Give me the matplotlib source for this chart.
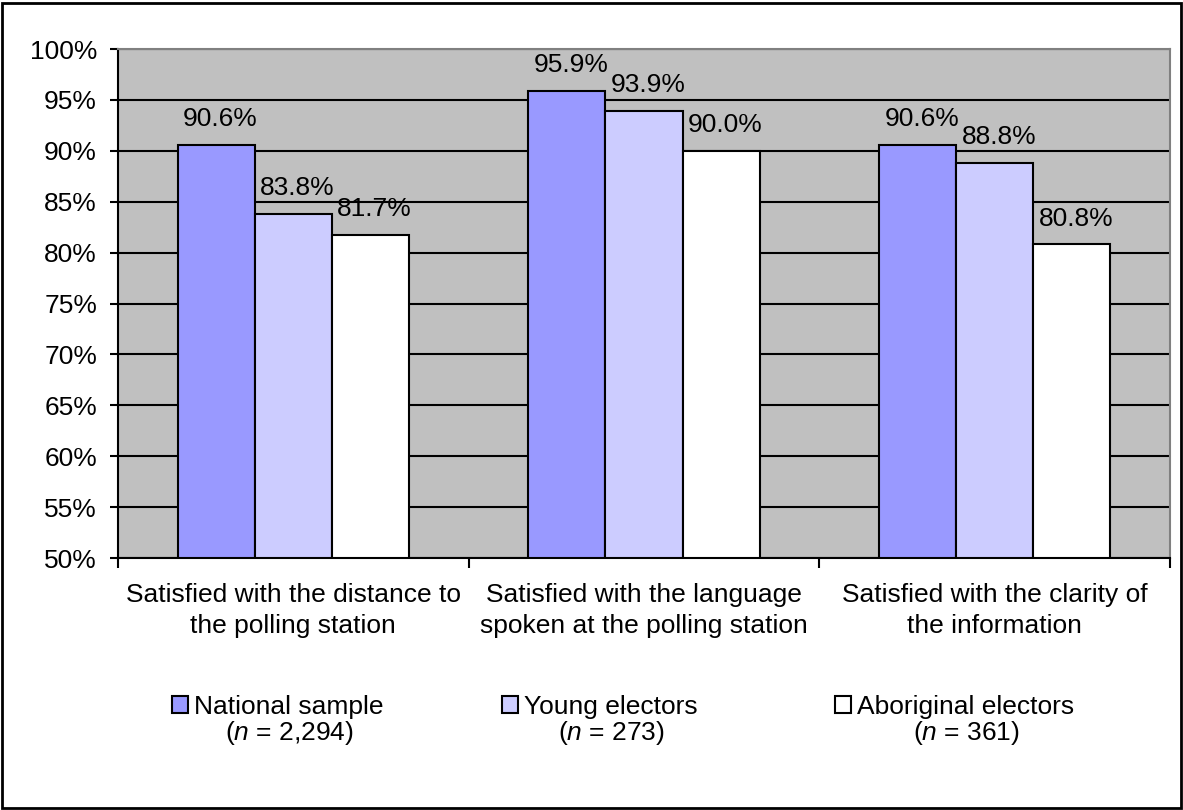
import numpy as np
import matplotlib.pyplot as plt
from matplotlib.patches import Rectangle

plt.rcParams['font.family'] = ['Liberation Sans', 'DejaVu Sans']
plt.rcParams['mathtext.fontset'] = 'custom'
plt.rcParams['mathtext.it'] = 'Liberation Sans:italic'
plt.rcParams['mathtext.rm'] = 'Liberation Sans'

categories = ["Satisfied with the distance to\nthe polling station",
              "Satisfied with the language\nspoken at the polling station",
              "Satisfied with the clarity of\nthe information"]
series_names = ["National sample", "Young electors", "Aboriginal electors"]
series_n = ["($n$ = 2,294)", "($n$ = 273)", "($n$ = 361)"]
national = [90.6, 95.9, 90.6]
young = [83.8, 93.9, 88.8]
aboriginal = [81.7, 90.0, 80.8]
colors = ["#9999FF", "#CCCCFF", "#FFFFFF"]

FS = 19

fig = plt.figure(figsize=(11.83, 8.10), dpi=100)
ax = fig.add_axes([0.0997, 0.311, 0.8893, 0.6285])
ax.set_facecolor("#C0C0C0")

x = np.arange(len(categories))
width = 0.22
containers = []
for i, (vals, col) in enumerate(zip([national, young, aboriginal], colors)):
    bars = ax.bar(x + (i - 1) * width, np.array(vals) - 50, width, bottom=50,
                  color=col, edgecolor="black", linewidth=1.5, zorder=3)
    containers.append(bars)
    for b, v in zip(bars, vals):
        ax.annotate(f"{v:.1f}%", (b.get_x() + b.get_width() / 2, v),
                    xytext=(3, 10), textcoords="offset points",
                    ha="center", va="bottom", fontsize=FS, zorder=4)

ax.set_ylim(50, 100)
ax.set_yticks(np.arange(50, 101, 5))
ax.set_yticklabels([f"{t}%" for t in range(50, 101, 5)], fontsize=FS)
ax.yaxis.grid(True, color="black", linewidth=1.5, zorder=0)
ax.set_axisbelow(True)
ax.set_xlim(-0.5, 2.5)
ax.set_xticks([-0.5, 0.5, 1.5, 2.5])
ax.set_xticklabels([])
ax.set_xticks(x, minor=True)
ax.set_xticklabels(categories, minor=True, fontsize=FS, linespacing=1.35)
ax.tick_params(axis="x", which="minor", length=0, pad=18)
ax.tick_params(axis="x", which="major", length=7, width=1.5, direction="out")
ax.tick_params(axis="y", length=6, width=1.5, direction="out", pad=9)
ax.spines["left"].set_linewidth(1.5)
ax.spines["bottom"].set_linewidth(1.5)
ax.spines["top"].set_color("#808080")
ax.spines["right"].set_color("#808080")
ax.spines["top"].set_linewidth(1.5)
ax.spines["right"].set_linewidth(1.5)

# legend: one entry per column, sample size centred under each label
leg_x = [172 / 1183, 502 / 1183, 835 / 1183]
leg_y = 1 - 707 / 810
legends = []
for bars, name, lx in zip(containers, series_names, leg_x):
    leg = fig.legend([bars], [name], loc="center left", bbox_to_anchor=(lx, leg_y),
                     frameon=False, fontsize=FS, borderpad=0, borderaxespad=0,
                     handlelength=0.6, handleheight=0.6, handletextpad=0.25)
    for h in leg.legend_handles:
        h.set_linewidth(1.5)
    legends.append(leg)

fig.canvas.draw()
W, H = fig.bbox.width, fig.bbox.height
for leg, n_txt in zip(legends, series_n):
    bb = leg.get_texts()[0].get_window_extent()
    fig.text((bb.x0 + bb.x1) / 2 / W, bb.y0 / H, n_txt,
             ha="center", va="top", fontsize=FS)

fig.patches.append(Rectangle((0.002, 0.002), 0.996, 0.994, transform=fig.transFigure,
                             fill=False, edgecolor="black", linewidth=2))

fig.savefig("out.png", dpi=100)
